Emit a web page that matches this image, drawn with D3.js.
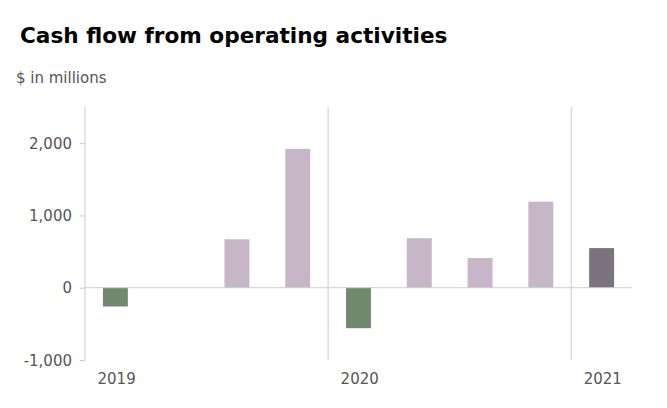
<!DOCTYPE html>
<html>
<head>
<meta charset="utf-8">
<script src="https://cdn.jsdelivr.net/npm/d3@7"></script>
<style>
  body { margin: 0; background: #fff; font-family: "DejaVu Sans", sans-serif; }
  .axis text { font-family: "DejaVu Sans", sans-serif; font-size: 15px; fill: #555; }
</style>
</head>
<body>
<svg id="chart" width="667" height="408"></svg>
<script>
// quarters, Q1 2019 .. Q1 2021
let quarters = ['Q1 2019', 'Q2 2019', 'Q3 2019', 'Q4 2019', 'Q1 2020', 'Q2 2020', 'Q3 2020', 'Q4 2020', 'Q1 2021']
let values = [-260, null, 670, 1920, -560, 685, 410, 1190, 548]
let years = ['2019', '2020', '2021']
let yearStart = ['Q1 2019', 'Q1 2020', 'Q1 2021']
let yTicks = [-1000, 0, 1000, 2000]

let svg = d3.select('#chart')
let margin = { top: 107, right: 35, bottom: 48, left: 85 }
let width = 667
let height = 408

svg.append('text')
    .attr('x', 20).attr('y', 43)
    .style('font-family', '"DejaVu Sans", sans-serif')
    .style('font-weight', 'bold')
    .style('font-size', '21.6px')
    .style('fill', '#000')
    .text('Cash flow from operating activities')

svg.append('text')
    .attr('x', 16).attr('y', 83)
    .style('font-family', '"DejaVu Sans", sans-serif')
    .style('font-size', '15px')
    .style('fill', '#555')
    .text('$ in millions')

let x = d3.scaleBand()
    .domain(quarters)
    .range([margin.left, width - margin.right])
    .paddingInner(0.59)
    .paddingOuter(0.295)

let y = d3.scaleLinear()
    .domain([-1000, 2500])
    .range([height - margin.bottom, margin.top])

let fmt = d3.formatLocale({ decimal: '.', thousands: ',', grouping: [3], currency: ['$', ''], minus: '-' }).format(',')

let yAxis = d3.axisLeft(y)
    .tickValues(yTicks)
    .tickFormat(fmt)
    .tickSize(5)
    .tickPadding(8)

let yAxisEl = svg.append('g')
    .attr('class', 'axis')
    .attr('transform', `translate(${margin.left},0)`)
    .call(yAxis)
yAxisEl.select('.domain').remove()
yAxisEl.selectAll('line').attr('stroke', '#ccc')
yAxisEl.selectAll('text').attr('dy', '0.35em')

// vertical lines at axis and year boundaries
let step = x.step()
let yearX = yearStart.map(q => margin.left + quarters.indexOf(q) * step)

svg.append('g')
    .selectAll('line')
    .data(yearX)
    .join('line')
    .attr('x1', d => d).attr('x2', d => d)
    .attr('y1', margin.top).attr('y2', height - margin.bottom)
    .attr('stroke', '#ccc')
    .attr('stroke-width', 1)

svg.append('g')
    .attr('class', 'axis')
    .selectAll('text')
    .data(years)
    .join('text')
    .attr('x', (d, i) => yearX[i] + 12.5)
    .attr('y', 384)
    .text(d => d)

// bars
let barColor = (d, i) => {
    if (i === quarters.length - 1) return '#7b7480'
    return d < 0 ? '#718a6e' : '#c6b6c7'
}

svg.append('g')
    .selectAll('rect')
    .data(values.map((v, i) => ({ q: quarters[i], v: v, i: i })).filter(d => d.v !== null))
    .join('rect')
    .attr('x', d => x(d.q))
    .attr('width', x.bandwidth())
    .attr('y', d => y(Math.max(0, d.v)))
    .attr('height', d => Math.abs(y(d.v) - y(0)))
    .attr('fill', d => barColor(d.v, d.i))

// zero line
svg.append('line')
    .attr('x1', margin.left).attr('x2', width - margin.right)
    .attr('y1', y(0)).attr('y2', y(0))
    .attr('stroke', '#c8d0c8')
    .attr('stroke-width', 1)
</script>
</body>
</html>
